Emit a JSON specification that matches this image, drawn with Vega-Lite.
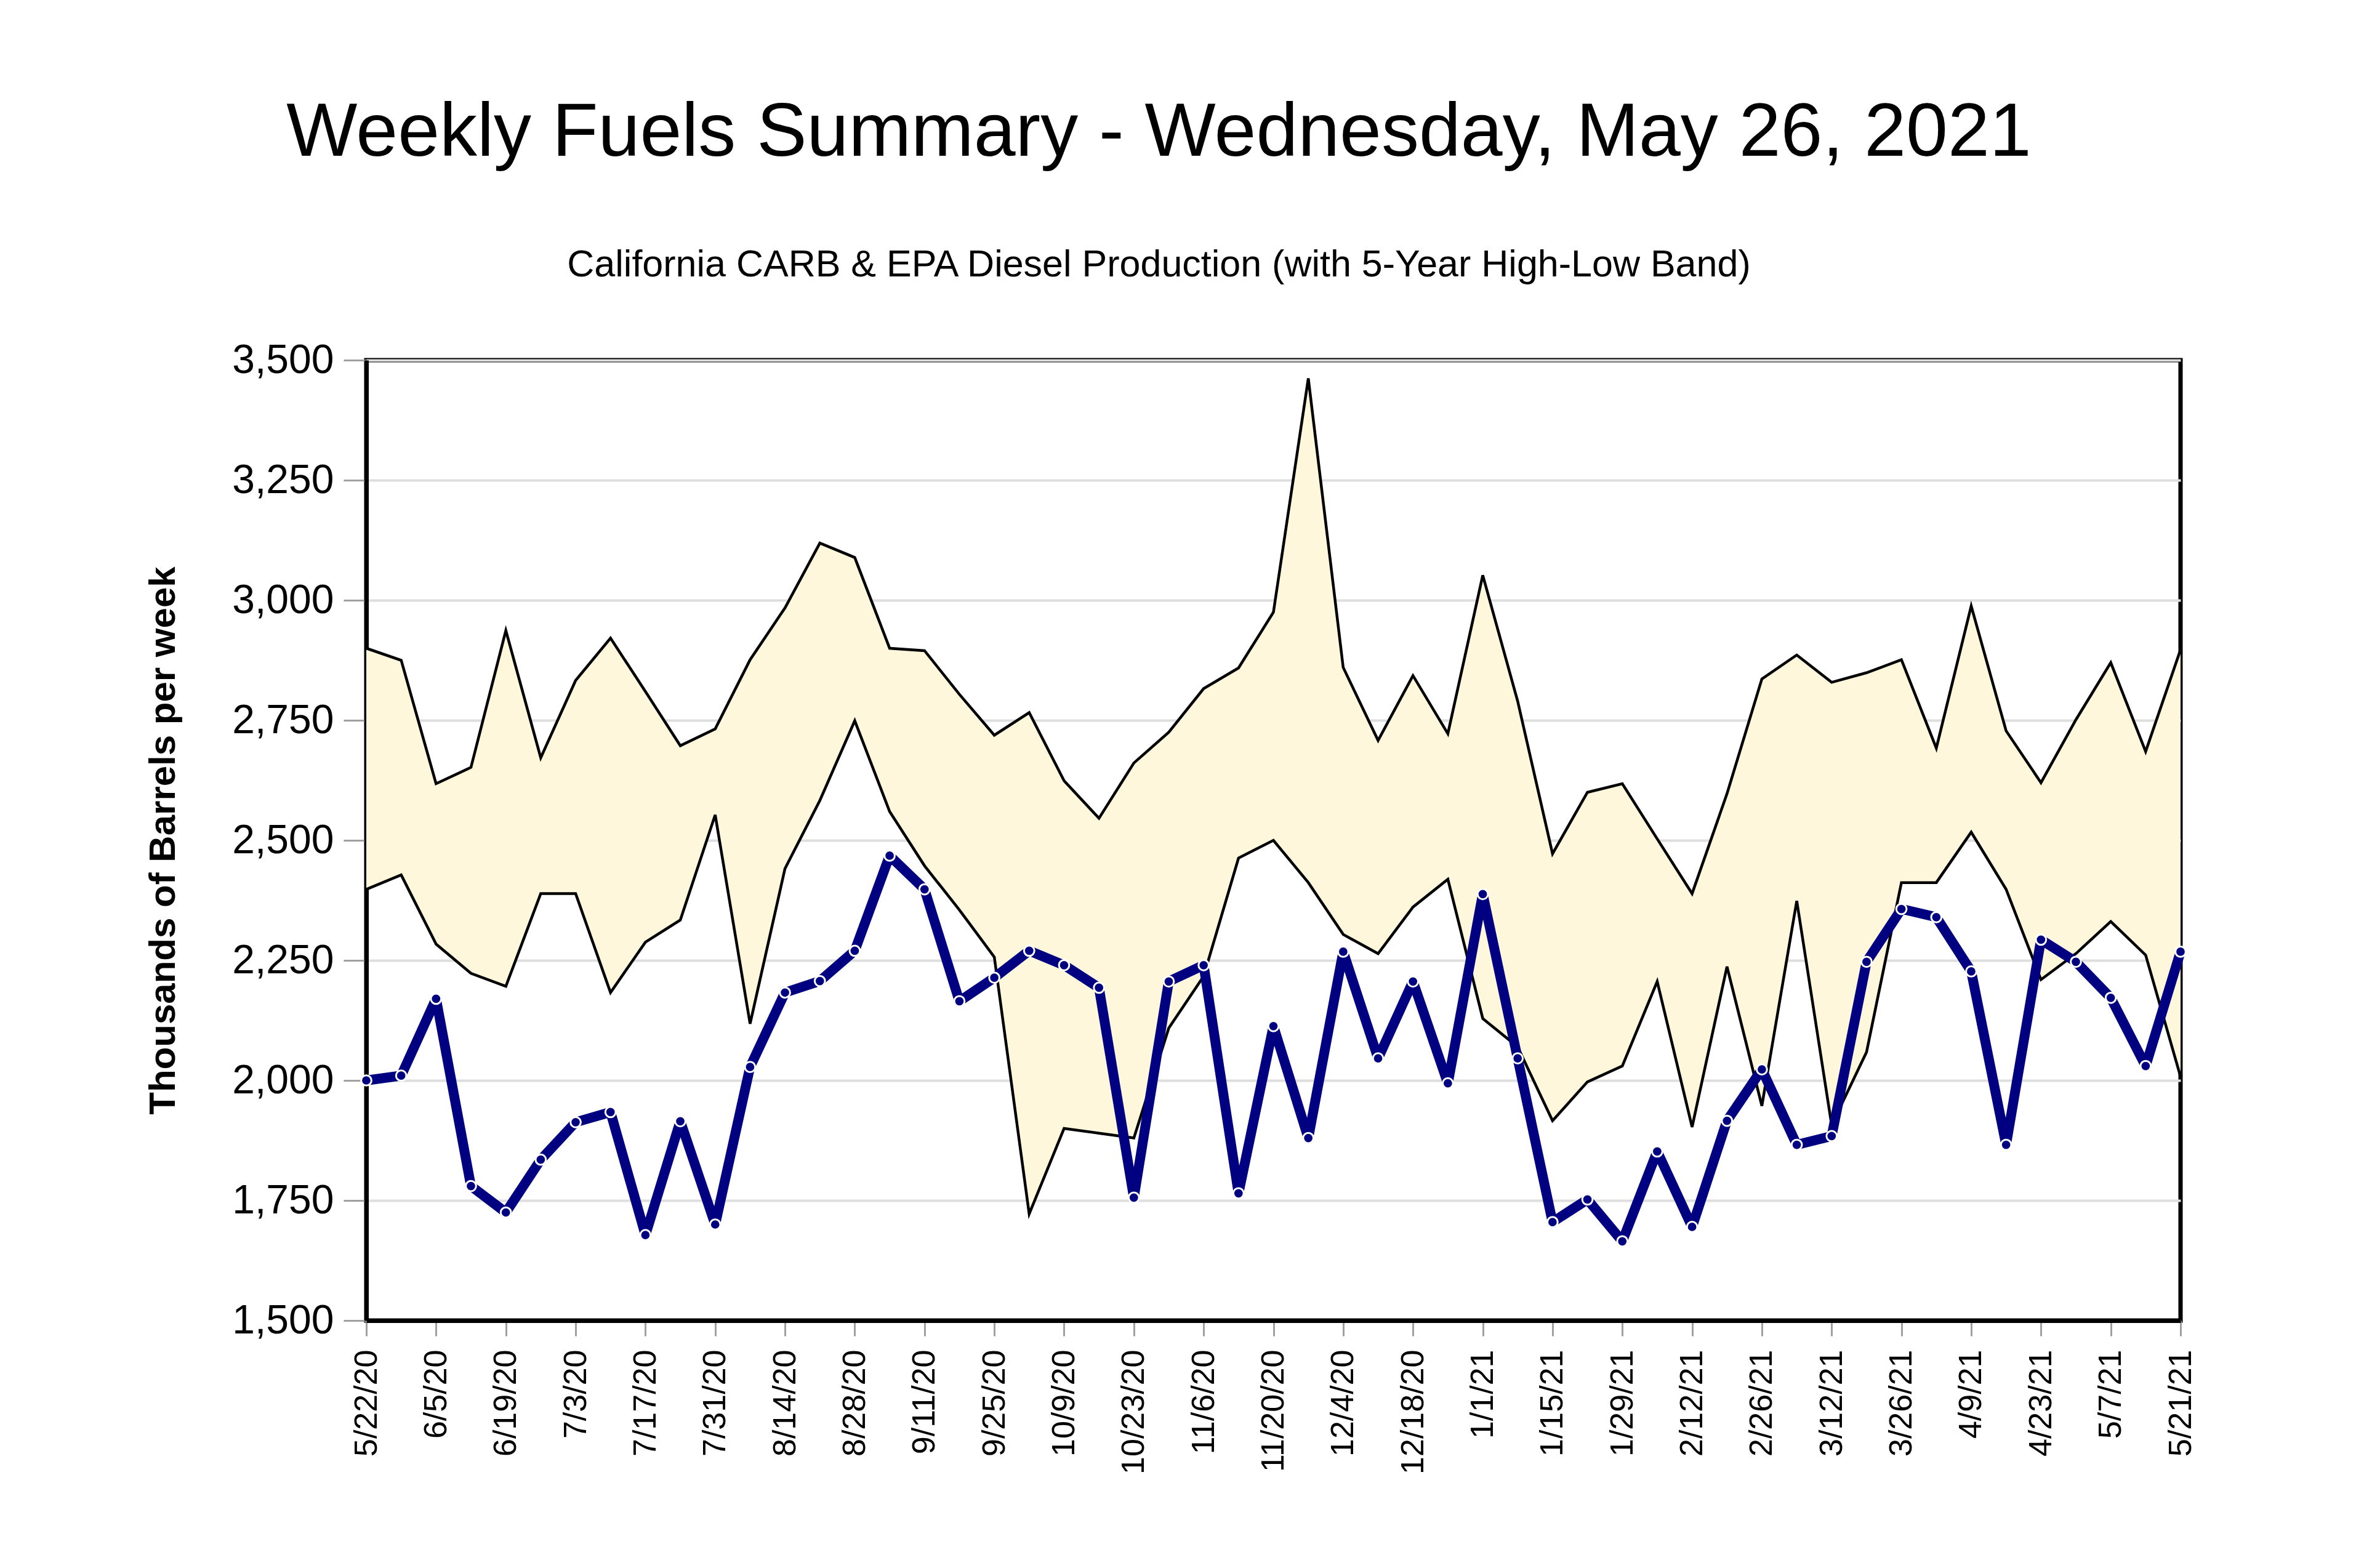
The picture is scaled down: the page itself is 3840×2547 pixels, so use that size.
{
  "$schema": "https://vega.github.io/schema/vega-lite/v6.json",
  "autosize": {"type": "none"},
  "width": 2947,
  "height": 1560,
  "padding": {"left": 595, "top": 585, "right": 298, "bottom": 402},
  "background": "white",
  "title": {
    "text": "Weekly Fuels Summary - Wednesday, May 26, 2021",
    "subtitle": "California CARB & EPA Diesel Production (with 5-Year High-Low Band)",
    "anchor": "middle",
    "frame": "group",
    "dx": -186,
    "offset": 89,
    "font": "Liberation Sans",
    "fontSize": 122,
    "fontWeight": "normal",
    "color": "black",
    "subtitleFont": "Liberation Sans",
    "subtitleFontSize": 61,
    "subtitleColor": "black",
    "subtitlePadding": 122
  },
  "config": {
    "view": {"stroke": "black", "strokeWidth": 7, "fill": "white"},
    "axis": {
      "labelFont": "Liberation Sans",
      "titleFont": "Liberation Sans",
      "labelColor": "black",
      "titleColor": "black",
      "domainColor": "black",
      "domainWidth": 7,
      "tickColor": "#a0a0a0",
      "tickWidth": 3,
      "labelLimit": 0
    }
  },
  "data": {
    "values": [
      {"d": "5/22/20", "hi": 2900, "lo": 2398, "val": 2000},
      {"d": "5/29/20", "hi": 2875, "lo": 2428, "val": 2010},
      {"d": "6/5/20", "hi": 2618, "lo": 2284, "val": 2170},
      {"d": "6/12/20", "hi": 2652, "lo": 2223, "val": 1780},
      {"d": "6/19/20", "hi": 2937, "lo": 2196, "val": 1725},
      {"d": "6/26/20", "hi": 2672, "lo": 2389, "val": 1835},
      {"d": "7/3/20", "hi": 2833, "lo": 2389, "val": 1913},
      {"d": "7/10/20", "hi": 2921, "lo": 2183, "val": 1934},
      {"d": "7/17/20", "hi": 2810, "lo": 2288, "val": 1678},
      {"d": "7/24/20", "hi": 2697, "lo": 2334, "val": 1915},
      {"d": "7/31/20", "hi": 2732, "lo": 2553, "val": 1700},
      {"d": "8/7/20", "hi": 2876, "lo": 2118, "val": 2028},
      {"d": "8/14/20", "hi": 2984, "lo": 2441, "val": 2183},
      {"d": "8/21/20", "hi": 3119, "lo": 2583, "val": 2207},
      {"d": "8/28/20", "hi": 3089, "lo": 2749, "val": 2270},
      {"d": "9/4/20", "hi": 2900, "lo": 2560, "val": 2468},
      {"d": "9/11/20", "hi": 2895, "lo": 2447, "val": 2398},
      {"d": "9/18/20", "hi": 2804, "lo": 2355, "val": 2165},
      {"d": "9/25/20", "hi": 2719, "lo": 2257, "val": 2214},
      {"d": "10/2/20", "hi": 2766, "lo": 1722, "val": 2270},
      {"d": "10/9/20", "hi": 2624, "lo": 1900, "val": 2240},
      {"d": "10/16/20", "hi": 2546, "lo": 1890, "val": 2193},
      {"d": "10/23/20", "hi": 2661, "lo": 1880, "val": 1756},
      {"d": "10/30/20", "hi": 2725, "lo": 2109, "val": 2206},
      {"d": "11/6/20", "hi": 2816, "lo": 2217, "val": 2240},
      {"d": "11/13/20", "hi": 2859, "lo": 2463, "val": 1765},
      {"d": "11/20/20", "hi": 2975, "lo": 2500, "val": 2113},
      {"d": "11/27/20", "hi": 3462, "lo": 2412, "val": 1880},
      {"d": "12/4/20", "hi": 2860, "lo": 2304, "val": 2268},
      {"d": "12/11/20", "hi": 2708, "lo": 2264, "val": 2046},
      {"d": "12/18/20", "hi": 2843, "lo": 2361, "val": 2206},
      {"d": "12/25/20", "hi": 2722, "lo": 2419, "val": 1994},
      {"d": "1/1/21", "hi": 3052, "lo": 2129, "val": 2388},
      {"d": "1/8/21", "hi": 2790, "lo": 2070, "val": 2046},
      {"d": "1/15/21", "hi": 2472, "lo": 1916, "val": 1705},
      {"d": "1/22/21", "hi": 2600, "lo": 1997, "val": 1752},
      {"d": "1/29/21", "hi": 2618, "lo": 2030, "val": 1665},
      {"d": "2/5/21", "hi": 2503, "lo": 2206, "val": 1852},
      {"d": "2/12/21", "hi": 2389, "lo": 1903, "val": 1695},
      {"d": "2/19/21", "hi": 2597, "lo": 2237, "val": 1916},
      {"d": "2/26/21", "hi": 2836, "lo": 1947, "val": 2023},
      {"d": "3/5/21", "hi": 2886, "lo": 2374, "val": 1866},
      {"d": "3/12/21", "hi": 2829, "lo": 1907, "val": 1884},
      {"d": "3/19/21", "hi": 2849, "lo": 2059, "val": 2247},
      {"d": "3/26/21", "hi": 2876, "lo": 2412, "val": 2357},
      {"d": "4/2/21", "hi": 2692, "lo": 2412, "val": 2340},
      {"d": "4/9/21", "hi": 2988, "lo": 2517, "val": 2227},
      {"d": "4/16/21", "hi": 2728, "lo": 2398, "val": 1866},
      {"d": "4/23/21", "hi": 2620, "lo": 2210, "val": 2293},
      {"d": "4/30/21", "hi": 2751, "lo": 2264, "val": 2247},
      {"d": "5/7/21", "hi": 2870, "lo": 2331, "val": 2172},
      {"d": "5/14/21", "hi": 2685, "lo": 2261, "val": 2030},
      {"d": "5/21/21", "hi": 2897, "lo": 2008, "val": 2268}
    ]
  },
  "encoding": {
    "x": {
      "field": "d",
      "type": "ordinal",
      "sort": null,
      "scale": {"type": "point", "padding": 0},
      "axis": {
        "title": null,
        "values": ["5/22/20", "6/5/20", "6/19/20", "7/3/20", "7/17/20", "7/31/20", "8/14/20", "8/28/20", "9/11/20", "9/25/20", "10/9/20", "10/23/20", "11/6/20", "11/20/20", "12/4/20", "12/18/20", "1/1/21", "1/15/21", "1/29/21", "2/12/21", "2/26/21", "3/12/21", "3/26/21", "4/9/21", "4/23/21", "5/7/21", "5/21/21"],
        "labelAngle": -90,
        "labelFontSize": 52,
        "labelPadding": 22,
        "tickSize": 25,
        "grid": false,
        "labelOverlap": false
      }
    }
  },
  "layer": [
    {
      "mark": {"type": "area", "color": "#FFF7DC", "opacity": 1},
      "encoding": {
        "y": {
          "field": "hi",
          "type": "quantitative",
          "scale": {"domain": [1500, 3500], "zero": false, "nice": false},
          "axis": {
            "title": "Thousands of Barrels per week",
            "titleFontSize": 60,
            "titleFontWeight": "bold",
            "titlePadding": 99,
            "values": [1500, 1750, 2000, 2250, 2500, 2750, 3000, 3250, 3500],
            "format": ",d",
            "labelFontSize": 66,
            "labelPadding": 16,
            "tickSize": 37,
            "grid": true,
            "gridColor": "#dedede",
            "gridWidth": 4
          }
        },
        "y2": {"field": "lo"}
      }
    },
    {
      "mark": {"type": "line", "color": "black", "strokeWidth": 4.5},
      "encoding": {"y": {"field": "hi", "type": "quantitative"}}
    },
    {
      "mark": {"type": "line", "color": "black", "strokeWidth": 4.5},
      "encoding": {"y": {"field": "lo", "type": "quantitative"}}
    },
    {
      "mark": {"type": "line", "color": "#000080", "strokeWidth": 16, "strokeJoin": "round"},
      "encoding": {"y": {"field": "val", "type": "quantitative"}}
    },
    {
      "mark": {"type": "point", "filled": true, "color": "#000080", "stroke": "white", "strokeWidth": 3, "size": 280, "opacity": 1},
      "encoding": {"y": {"field": "val", "type": "quantitative"}}
    }
  ]
}
